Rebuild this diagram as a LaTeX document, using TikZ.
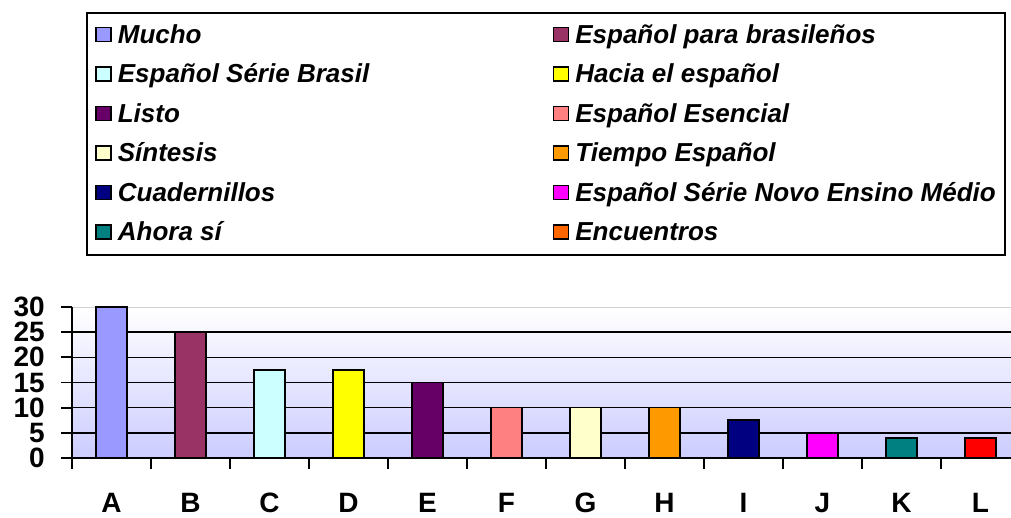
\documentclass[tikz,border=0pt]{standalone}
\usepackage{fontspec}
\setmainfont{Liberation Sans}
\usepackage{tikz}
\usetikzlibrary{positioning}

\definecolor{cMucho}{HTML}{9999FF}
\definecolor{cPara}{HTML}{993366}
\definecolor{cSerie}{HTML}{CCFFFF}
\definecolor{cHacia}{HTML}{FFFF00}
\definecolor{cListo}{HTML}{660066}
\definecolor{cEsencial}{HTML}{FF8080}
\definecolor{cSintesis}{HTML}{FFFFCC}
\definecolor{cTiempo}{HTML}{FF9900}
\definecolor{cCuad}{HTML}{000080}
\definecolor{cNovo}{HTML}{FF00FF}
\definecolor{cAhora}{HTML}{008080}
\definecolor{cEncBar}{HTML}{FF0000}
\definecolor{cEncKey}{HTML}{FF6600}
\definecolor{plotbg}{HTML}{CCCCFF}

\begin{document}
\begin{tikzpicture}[x=1pt,y=-1pt,line join=miter]
  \tikzset{keybox/.style={draw=black,line width=1.3pt,minimum width=15pt,
                          minimum height=14pt,inner sep=0pt},
           keytext/.style={inner sep=0pt,text height=17pt,text depth=0pt,
                           font=\fontsize{26}{28}\selectfont\bfseries\itshape},
           axlab/.style={inner sep=0pt,font=\fontsize{28}{30}\selectfont\bfseries},
           barbox/.style={draw=black,line width=1.6pt},
           grid line/.style={draw=black,line width=1.6pt}}
  \useasboundingbox (0,0) rectangle (1011,517);

  % legend
  \node[draw=black,line width=1.6pt,minimum width=918pt,minimum height=242pt,
        inner sep=0pt] (legend) at (546,134) {};
  \foreach \i/\col/\txt in {0/cMucho/Mucho, 1/cPara/Español para brasileños,
      2/cSerie/Español Série Brasil, 3/cHacia/Hacia el español,
      4/cListo/Listo, 5/cEsencial/Español Esencial,
      6/cSintesis/Síntesis, 7/cTiempo/Tiempo Español,
      8/cCuad/Cuadernillos, 9/cNovo/Español Série Novo Ensino Médio,
      10/cAhora/Ahora sí, 11/cEncKey/Encuentros}{
    \pgfmathsetmacro{\kx}{103.5+457.5*mod(\i,2)}
    \pgfmathsetmacro{\ky}{34.5+39.5*floor(\i/2)}
    \node[keybox,fill=\col] (key\i) at (\kx,\ky) {};
    \node[keytext] (keytxt\i) [right=6pt of key\i] {\txt};
  }

  % plot area
  \shade[top color=white,bottom color=plotbg] (72,307) rectangle (1011,458);
  \draw[gray!35,line width=0.8pt] (72,307) -- (1011,307);
  \foreach \v in {5,10,...,25}
    \draw[grid line] (72,{458-5.033*\v}) -- (1011,{458-5.033*\v});

  % bars
  \foreach \i/\n/\col/\val in {0/A/cMucho/30, 1/B/cPara/25, 2/C/cSerie/17.5,
      3/D/cHacia/17.5, 4/E/cListo/15, 5/F/cEsencial/10, 6/G/cSintesis/10,
      7/H/cTiempo/10, 8/I/cCuad/7.5, 9/J/cNovo/5, 10/K/cAhora/4,
      11/L/cEncBar/4}{
    \draw[barbox,fill=\col] ({96+79*\i},458) rectangle ({127+79*\i},{458-5.033*\val});
    \node[axlab] (cat\n) at ({111.5+79*\i},503) {\n};
  }

  % axes
  \draw[line width=1.8pt] (72,307) -- (72,469);
  \draw[line width=1.8pt] (61,458) -- (1011,458);
  \foreach \v in {0,5,...,30}{
    \draw[line width=1.8pt] (61,{458-5.033*\v}) -- (72,{458-5.033*\v});
    \node[axlab,anchor=east] (ylab\v) at (45,{458-5.033*\v}) {\v};
  }
  \foreach \k in {1,...,11}
    \draw[line width=1.8pt] ({72+79*\k},458) -- ({72+79*\k},469);
\end{tikzpicture}
\end{document}
